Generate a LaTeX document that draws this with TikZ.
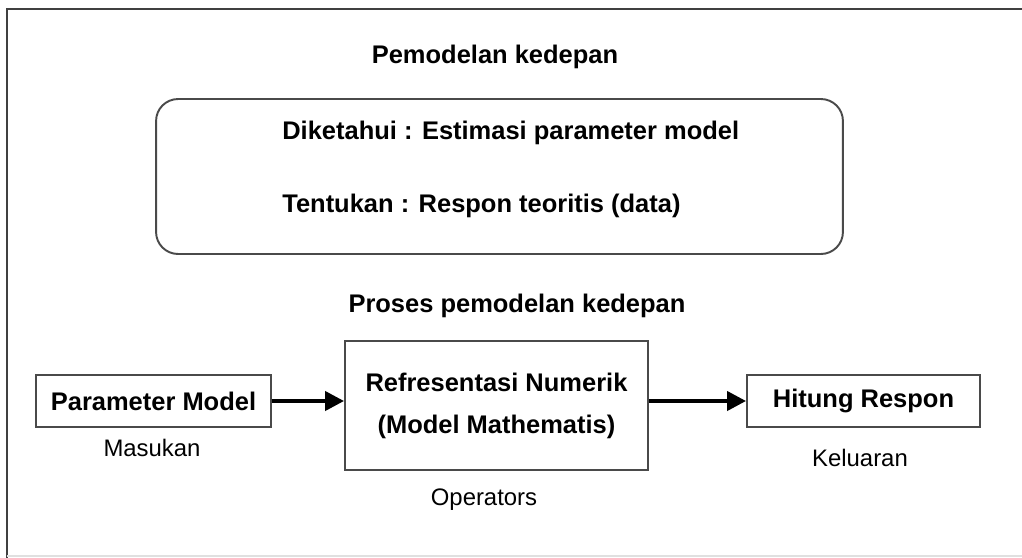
\documentclass[tikz,border=0pt]{standalone}
\usepackage{fontspec}
\setmainfont{Liberation Sans}
\usepackage{tikz}
\usetikzlibrary{arrows.meta, positioning}
\definecolor{framegray}{HTML}{404040}
\definecolor{boxgray}{HTML}{4A4A4A}

\begin{document}
\begin{tikzpicture}[
    x=0.02cm, y=-0.02cm,
    title/.style={font=\fontsize{14.5}{17}\selectfont\bfseries},
    line/.style={font=\fontsize{14.5}{17}\selectfont\bfseries, anchor=west, inner sep=0pt},
    box/.style={draw=boxgray, line width=1.1pt, font=\fontsize{14.5}{24}\selectfont\bfseries, align=center, inner sep=0pt},
    note/.style={font=\fontsize{13.6}{16}\selectfont},
    arrow/.style={-{Triangle[length=0.38cm, width=0.38cm]}, line width=2.3pt},
]
    \useasboundingbox (0,0) rectangle (1022,558);
    % Frame
    \draw[framegray, line width=1.4pt] (7,558) -- (7,9) -- (1022,9);
    \draw[black!12, line width=0.8pt] (7,556) -- (1022,556);

    % Top part
    \node[title] (head) at (495,57) {Pemodelan kedepan};
    \node[draw=boxgray, line width=1.1pt, rounded corners=0.44cm, minimum width=13.74cm, minimum height=3.1cm] (given) at (499.5,176.5) {};
    \node[line] (known) at (282,133) {Diketahui : Estimasi parameter model};
    \node[line] (find) at (282,206) {Tentukan : Respon teoritis (data)};

    % Process
    \node[title] (proc) at (517,306) {Proses pemodelan kedepan};
    \node[box, minimum width=4.7cm, minimum height=1.04cm] (param) at (153.5,401) {Parameter Model};
    \node[box, minimum width=6.06cm, minimum height=2.58cm] (numeric) at (496.5,405.5) {Refresentasi Numerik\\(Model Mathematis)};
    \node[box, minimum width=4.66cm, minimum height=1.04cm] (resp) at (863.5,401) {Hitung Respon};

    \node[note] (input) at (152,448) {Masukan};
    \node[note] (oper) at (484,500) {Operators};
    \node[note] (output) at (860,458) {Keluaran};

    % Arrows
    \draw[arrow] (param.east) -- (numeric.west |- param.east);
    \draw[arrow] (numeric.east |- resp.west) -- (resp.west);
\end{tikzpicture}
\end{document}
